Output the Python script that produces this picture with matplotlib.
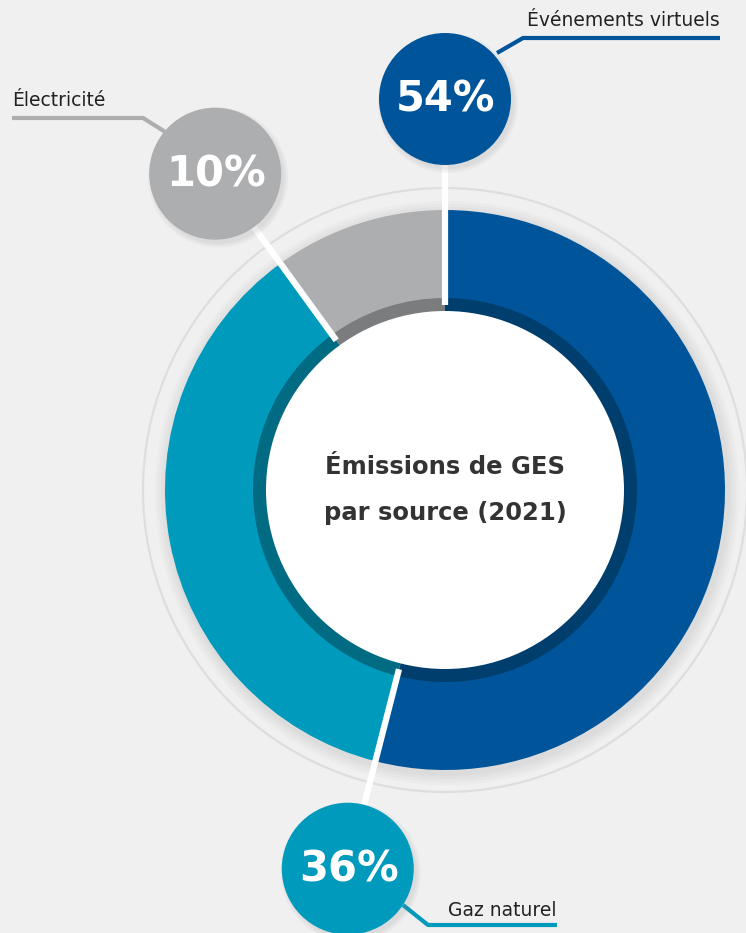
import numpy as np
import matplotlib.pyplot as plt
from matplotlib.patches import Circle

# Data
labels = ["Événements virtuels", "Gaz naturel", "Électricité"]
values = [54, 36, 10]
pct_labels = ["54%", "36%", "10%"]
colors = ["#00559A", "#009ABD", "#ADAEB0"]
dark_colors = ["#003E6E", "#006B82", "#7B7C7E"]
title_lines = ["Émissions de GES", "par source (2021)"]

W, H = 746, 933
BG = "#F0F0F0"

def Y(y):
    # picture rows -> data y
    return H - y

fig = plt.figure(figsize=(W / 100, H / 100), dpi=100, facecolor=BG)
ax = fig.add_axes([0, 0, 1, 1])
ax.set_facecolor(BG)

cx, cy = 445, Y(490)
R = 280

# soft shadow and faint ring around the donut
for i, a in enumerate([0.05, 0.05, 0.05, 0.06]):
    ax.add_patch(Circle((cx + 2, cy - 3), R + 12 - i * 3, color="#909090", alpha=a, lw=0, zorder=1))
ax.add_patch(Circle((cx, cy), 302, fill=False, ec="#DEDEDE", lw=1.6, zorder=1))

# donut
ax.pie(values, colors=colors, startangle=90, counterclock=False, radius=R,
       center=(cx, cy), wedgeprops=dict(width=R - 190, lw=0, zorder=2))
ax.pie(values, colors=dark_colors, startangle=90, counterclock=False, radius=192,
       center=(cx, cy), wedgeprops=dict(width=14, lw=0, zorder=2))
ax.add_patch(Circle((cx, cy), 179, color="white", lw=0, zorder=3))

ax.text(cx, Y(467), title_lines[0], ha="center", va="center", fontsize=17.5,
        fontweight="bold", color="#333333", zorder=6)
ax.text(cx, Y(513), title_lines[1], ha="center", va="center", fontsize=17.5,
        fontweight="bold", color="#333333", zorder=6)

# separators + bubbles at the start of each slice
starts = 90 - 360 * np.concatenate([[0], np.cumsum(values)[:-1]]) / sum(values)
dist = 391
bub_r = 66
for ang, col, txt in zip(starts, colors, pct_labels):
    t = np.deg2rad(ang)
    ax.plot([cx + 185 * np.cos(t), cx + dist * np.cos(t)],
            [cy + 185 * np.sin(t), cy + dist * np.sin(t)],
            color="white", lw=4.5, solid_capstyle="butt", zorder=4)
    bx, by = cx + dist * np.cos(t), cy + dist * np.sin(t)
    for k, a in enumerate([0.06, 0.06, 0.07]):
        ax.add_patch(Circle((bx + 3, by - 4), bub_r + 4 - k * 2, color="#808080",
                            alpha=a, lw=0, zorder=5))
    ax.add_patch(Circle((bx, by), bub_r, color=col, lw=0, zorder=5))
    ax.text(bx + 1, by - 1, txt, ha="center", va="center", fontsize=30,
            fontweight="bold", color="white", zorder=6)

# leader lines and labels
leaders = [
    ([497, 523, 720], [53, 38, 38]),
    ([403, 428, 557], [905, 925, 925]),
    ([167, 143, 12], [133, 118, 118]),
]
label_pos = [(720, 21, "right"), (557, 910, "right"), (12, 101, "left")]
for (xs, ys), col, lab, (lx, ly, ha) in zip(leaders, colors, labels, label_pos):
    ax.plot(xs, [Y(v) for v in ys], color=col, lw=3, solid_capstyle="butt", zorder=4)
    ax.text(lx, Y(ly), lab, ha=ha, va="center", fontsize=13.5, color="#222222", zorder=6)

ax.set_xlim(0, W)
ax.set_ylim(0, H)
ax.set_aspect("equal")
ax.axis("off")

fig.savefig("out.png", dpi=100, facecolor=BG)
